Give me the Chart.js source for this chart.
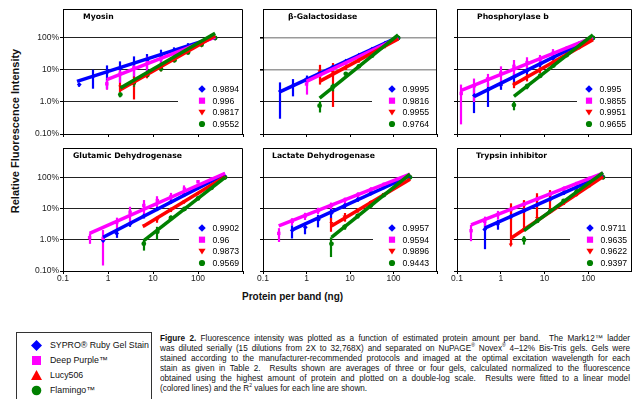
<!DOCTYPE html>
<html>
<head>
<meta charset="utf-8">
<script src="https://cdn.jsdelivr.net/npm/chart.js@4.4.1/dist/chart.umd.min.js"></script>
<style>
html,body{margin:0;padding:0;background:#fff;}
body{width:632px;height:399px;position:relative;overflow:hidden;font-family:"Liberation Sans",Arial,sans-serif;color:#111;}
canvas{position:absolute;}
.ytitle{position:absolute;left:15px;top:131px;transform:translate(-50%,-50%) rotate(-90deg);font-weight:bold;font-size:11px;white-space:nowrap;}
.xtitle{position:absolute;left:242px;top:291px;font-weight:bold;font-size:10px;line-height:12px;white-space:nowrap;}
.leg{position:absolute;left:16px;top:332px;width:134px;height:80px;border:1px solid #333;}
.leg .it{position:absolute;left:0;width:134px;height:12px;line-height:12px;font-size:8.8px;}
.leg svg{position:absolute;left:14px;top:1px;}
.leg span{position:absolute;left:33px;top:0;white-space:nowrap;}
.cap{position:absolute;left:160px;top:334px;width:470px;font-size:8.2px;}
.cap div{height:10px;line-height:10px;white-space:nowrap;}
.cap sup{font-size:5px;line-height:0;vertical-align:4px;}
</style>
</head>
<body>
<div class="ytitle">Relative Fluorescence Intensity</div>
<div class="xtitle">Protein per band (ng)</div>
<div class="leg">
  <div class="it" style="top:6px"><svg width="11" height="11"><polygon points="5.5,0 11,5.5 5.5,11 0,5.5" fill="#0000ff"/></svg><span>SYPRO® Ruby Gel Stain</span></div>
  <div class="it" style="top:21px"><svg width="11" height="11"><rect x="1" y="1" width="9" height="9" fill="#ff00ff"/></svg><span>Deep Purple™</span></div>
  <div class="it" style="top:36px"><svg width="11" height="11"><polygon points="5.5,0 11,10 0,10" fill="#ff0000"/></svg><span>Lucy506</span></div>
  <div class="it" style="top:51px"><svg width="11" height="11"><circle cx="5.5" cy="5.5" r="4.8" fill="#008000"/></svg><span>Flamingo™</span></div>
</div>
<div class="cap">
<div><span><b>Figure 2.</b> Fluorescence intensity was plotted as a function of estimated protein amount per band.&nbsp; The Mark12™ ladder</span></div>
<div><span>was diluted serially (15 dilutions from 2X to 32,768X) and separated on NuPAGE<sup>®</sup> Novex<sup>®</sup> 4–12% Bis-Tris gels. Gels were</span></div>
<div><span>stained according to the manufacturer-recommended protocols and imaged at the optimal excitation wavelength for each</span></div>
<div><span>stain as given in Table 2.&nbsp; Results shown are averages of three or four gels, calculated normalized to the fluorescence</span></div>
<div><span>obtained using the highest amount of protein and plotted on a double-log scale.&nbsp; Results were fitted to a linear model</span></div>
<div class="last"><span>(colored lines) and the R<sup>2</sup> values for each line are shown.</span></div>
</div>
<script>
(function(){
  var STAINS = ["SYPRO® Ruby Gel Stain", "Deep Purple™", "Lucy506", "Flamingo™"];
  var COLORS = ["#0000ff", "#ff00ff", "#ff0000", "#008000"];
  var SHAPES = ["rectRot", "rect", "triangle", "circle"];

  // values are % of the signal at the highest load; errors are +/- (or [minus, plus])
  // fits are [x0, y0, x1, y1] of each fitted line

  // Myosin
  var myoNg  = [240, 120, 60, 30, 15, 7.5, 3.75, 1.88, 0.94, 0.47, 0.23];
  var myoSy  = [100, 74, 55, 38.3, 28.9, 20.5, 16.1, 11.35, 8.25, 6.4, 3.5];
  var myoSyE = [3, 5, 14, 12.7, 14.1, 11, 10.5, 7.25, 5.65, 3.8, 0.5];
  var myoDp  = [100, 69, 48, 33, 22.6, 17, 11.6, 7.75, 3.7];
  var myoDpE = [2, 4, 5, 6, 7, 9, 5.4, 3.85, 1.3];
  var myoLu  = [100, 59, 35, 20.5, 12.8, 7.3, 3.7, 3];
  var myoLuE = [3, 4, 3, 3, 3.7, 1.8, 2.5, 1];
  var myoFl  = [100, 62, 35, 20, 11, 7, 4, 1.7];
  var myoFlE = [2, 3, 3, 2, 2, 1, 1, 0.3];
  var myoFit = [[0.205, 4.4, 240, 107], [0.94, 5, 240, 107], [1.88, 2.4, 240, 117], [1.88, 2.75, 240, 140]];
  var myoR2  = ["0.9894", "0.996", "0.9817", "0.9552"];

  // beta-Galactosidase
  var galNg  = [128, 64, 32, 16, 8, 4, 2, 1, 0.5, 0.25];
  var galSy  = [100, 69, 45, 29, 19, 12.4, 8, 5.2, 3.35, 2.2];
  var galSyE = [2, 3, 3, 3, 2, 2, 1.5, 1.5, 1.85, 1.9];
  var galDp  = [100, 63, 40.5, 26, 16.7, 10.7, 6.9, 3.65];
  var galDpE = [2, 4, 4, 3, 2.5, 2, 1.5, 1.95];
  var galLu  = [100, 55, 33, 20, 12, 8.6, 9];
  var galLuE = [2, 3, 3, 3, 2, 7.9, 5.5];
  var galFl  = [100, 60, 28, 13, 7.6, 2.95, 0.77];
  var galFlE = [2, 3, 2, 1.5, 1, 0.8, 0.3];
  var galFit = [[0.25, 2.1, 128, 107], [1, 4.4, 128, 100], [2, 4.4, 128, 93], [2, 1.33, 128, 126]];
  var galR2  = ["0.9995", "0.9816", "0.9955", "0.9764"];

  // Phosphorylase b
  var phoNg  = [128, 64, 32, 16, 8, 4, 2, 1, 0.5, 0.25, 0.125];
  var phoSy  = [100, 60, 37.6, 23.7, 15, 9.4, 6, 3.4, 2.3, 1.6];
  var phoSyE = [2, 3, 4, 4, 3, 2.5, 2, 1, 1.6, 1.15];
  var phoDp  = [100, 70, 47, 35, 22, 17, 13, 8, 5.25, 3.2, 1.85];
  var phoDpE = [2, 5, 8, 10, 7.5, 8, 7.5, 5, 2.3, 2.2, 1.65];
  var phoLu  = [100, 51, 29.5, 17.3, 10, 5.9, 3.5];
  var phoLuE = [2, 3, 3, 2.5, 2, 1.5, 0.8];
  var phoFl  = [100, 60, 29, 13.7, 6.6, 3.1, 0.8];
  var phoFlE = [2, 3, 2, 1.5, 1, 0.6, 0.25];
  var phoFit = [[0.25, 1.5, 128, 103], [0.125, 2.3, 128, 105], [2, 3.5, 128, 89], [2, 1.5, 128, 126]];
  var phoR2  = ["0.995", "0.9855", "0.9951", "0.9655"];

  // Glutamic Dehydrogenase
  var gluNg  = [400, 200, 100, 50, 25, 12.5, 6.25, 3.1, 1.56, 0.78, 0.39];
  var gluSy  = [100, 78, 46, 27.5, 16.4, 9.8, 5.8, 3.2, 1.6, 0.94];
  var gluSyE = [2, 3, 3, 3, 2, 1.5, 1, 0.6, 0.45, 0.1];
  var gluDp  = [100, 88, 72, 42, 24, 18, 12.5, 7.6, 3.6, 1.1, 1.17];
  var gluDpE = [3, 5, 8, 13, 7.7, 6.8, 6.2, 3.8, 1.5, 0.95, 0.43];
  var gluLu  = [100, 56, 30, 16.6, 9.2, 4.5, 2.8];
  var gluLuE = [3, 3, 3, 2, 1.5, 1, 0.3];
  var gluFl  = [100, 46, 21, 9.7, 5, 1.8, 0.75];
  var gluFlE = [2, 3, 2, 1.5, 1, 0.8, 0.3];
  var gluFit = [[0.78, 1.2, 400, 126], [0.39, 1.6, 400, 135], [6.25, 2.76, 400, 105], [6.25, 0.94, 400, 100]];
  var gluR2  = ["0.9902", "0.96", "0.9873", "0.9569"];

  // Lactate Dehydrogenase
  var ldhNg  = [240, 120, 60, 30, 15, 7.5, 3.75, 1.88, 0.94, 0.47, 0.23];
  var ldhSy  = [100, 76, 48, 30.8, 19.5, 12.4, 7.2, 4.4, 2.5, 2.0];
  var ldhSyE = [2, 3, 4, 4, 3, 2.5, 2.8, 1.9, 1, 0.9];
  var ldhDp  = [100, 85, 59, 40, 27, 18.4, 12.5, 8.6, 5.8, 3.9, 1.6];
  var ldhDpE = [2, 5, 8, 8, 6, 4, 3, 2, 1.5, 1, 0.75];
  var ldhLu  = [100, 51, 28.4, 15.9, 8.9, 5.5, 3.4];
  var ldhLuE = [2, 3, 3, 2, 1.5, 1.7, 1.6];
  var ldhFl  = [100, 59, 27, 12.5, 5.8, 2.6, 0.74];
  var ldhFlE = [2, 3, 2, 1.5, 1, 0.5, 0.46];
  var ldhFit = [[0.47, 2.07, 240, 112], [0.23, 2.77, 240, 126], [3.75, 2.77, 240, 87], [3.75, 1.2, 240, 126]];
  var ldhR2  = ["0.9957", "0.9594", "0.9896", "0.9443"];

  // Trypsin inhibitor
  var tryNg  = [218, 109, 54.5, 27.3, 13.6, 6.8, 3.4, 1.7, 0.85, 0.43, 0.21];
  var trySy  = [100, 75, 48, 31.5, 20, 13, 8.5, 5.5, 3.2, 2.15];
  var trySyE = [2, 3, 4, 4, 3, 2, 1.5, 1.2, 1.1, 1.65];
  var tryDp  = [100, 93, 63, 43, 29, 20, 13.6, 9.3, 6.4, 3.9, 1.95];
  var tryDpE = [2, 5, 7, 8, 6, 5, 3.5, 2.5, 2, 1.6, 1.05];
  var tryLu  = [100, 54, 28, 15, 8, 4.9, 2.1, 0.69];
  var tryLuE = [2, 3, 3, 2, [0, 31], [0, 26], [0, 16.5], [0, 14]];
  var tryFl  = [100, 73, 35.6, 17.5, 8.3, 4.0, 1.0];
  var tryFlE = [2, 3, 2, 1.5, 1, 0.5, 0.3];
  var tryFit = [[0.43, 2.35, 218, 115], [0.21, 3, 218, 135], [1.7, 1.12, 218, 105], [3.4, 1.97, 218, 141]];
  var tryR2  = ["0.9711", "0.9635", "0.9622", "0.9397"];

  var X_TICKS = [0.1, 1, 10, 100, 1000];
  var Y_TICKS = [0.1, 1, 10, 100];
  var Y_LABELS = { "0.1": "0.10%", "1": "1.0%", "10": "10%", "100": "100%" };

  // page geometry of the plot areas
  var COL_L = [63, 263, 457], COL_R = [243, 437, 632];
  var ROW_T = [9, 148], ROW_B = [134, 271];
  var Y_MAX = [805, 867];
  var AX_W = 48, AX_H = 18, PAD = 2;
  var LEG_DY = [80, 91.7, 103.3, 115];

  var panels = [
    { title: "Myosin", ng: myoNg, vals: [myoSy, myoDp, myoLu, myoFl], errs: [myoSyE, myoDpE, myoLuE, myoFlE], fits: myoFit, r2: myoR2, col: 0, row: 0, titleDx: 20, legDx: 139, boxDx: 115 },
    { title: "β-Galactosidase", ng: galNg, vals: [galSy, galDp, galLu, galFl], errs: [galSyE, galDpE, galLuE, galFlE], fits: galFit, r2: galR2, col: 1, row: 0, titleDx: 25, legDx: 129, boxDx: 109, gray: true },
    { title: "Phosphorylase b", ng: phoNg, vals: [phoSy, phoDp, phoLu, phoFl], errs: [phoSyE, phoDpE, phoLuE, phoFlE], fits: phoFit, r2: phoR2, col: 2, row: 0, titleDx: 20, legDx: 132, boxDx: 120 },
    { title: "Glutamic Dehydrogenase", ng: gluNg, vals: [gluSy, gluDp, gluLu, gluFl], errs: [gluSyE, gluDpE, gluLuE, gluFlE], fits: gluFit, r2: gluR2, col: 0, row: 1, titleDx: 10, legDx: 139, boxDx: 116 },
    { title: "Lactate Dehydrogenase", ng: ldhNg, vals: [ldhSy, ldhDp, ldhLu, ldhFl], errs: [ldhSyE, ldhDpE, ldhLuE, ldhFlE], fits: ldhFit, r2: ldhR2, col: 1, row: 1, titleDx: 9, legDx: 129, boxDx: 110 },
    { title: "Trypsin inhibitor", ng: tryNg, vals: [trySy, tryDp, tryLu, tryFl], errs: [trySyE, tryDpE, tryLuE, tryFlE], fits: tryFit, r2: tryR2, col: 2, row: 1, titleDx: 19, legDx: 133, boxDx: 113 }
  ];

  function drawMark(ctx, shape, x, y, r, color){
    ctx.fillStyle = color;
    ctx.beginPath();
    if(shape === "rectRot"){
      ctx.moveTo(x, y - r*1.2); ctx.lineTo(x + r*1.2, y); ctx.lineTo(x, y + r*1.2); ctx.lineTo(x - r*1.2, y);
    } else if(shape === "rect"){
      ctx.rect(x - r, y - r, r*2, r*2);
    } else if(shape === "triangle"){
      ctx.moveTo(x - r*1.15, y - r*0.85); ctx.lineTo(x + r*1.15, y - r*0.85); ctx.lineTo(x, y + r*1.05);
    } else {
      ctx.arc(x, y, r, 0, Math.PI*2);
    }
    ctx.closePath();
    ctx.fill();
  }

  function decor(p){
    return {
      id: "decor",
      beforeDatasetsDraw: function(chart){
        var a = chart.chartArea, ctx = chart.ctx, xs = chart.scales.x, ys = chart.scales.y;
        ctx.save();
        ctx.fillStyle = "#fff";
        ctx.fillRect(a.left + p.boxDx, a.top + 70, a.right - a.left - p.boxDx - 1, a.bottom - a.top - 71);
        ctx.beginPath();
        ctx.rect(a.left, a.top, a.right - a.left, a.bottom - a.top);
        ctx.clip();
        ctx.lineWidth = 2.2;
        p.vals.forEach(function(vals, s){
          ctx.strokeStyle = COLORS[s];
          vals.forEach(function(v, i){
            var e = p.errs[s][i];
            var lo = Array.isArray(e) ? v - e[0] : v - e;
            var hi = Array.isArray(e) ? v + e[1] : v + e;
            var px = Math.round(xs.getPixelForValue(p.ng[i]));
            var y0 = lo > 0 ? ys.getPixelForValue(lo) : a.bottom;
            var y1 = ys.getPixelForValue(hi);
            ctx.beginPath(); ctx.moveTo(px, y0); ctx.lineTo(px, y1); ctx.stroke();
          });
        });
        ctx.restore();
      },
      afterDatasetsDraw: function(chart){
        var a = chart.chartArea, ctx = chart.ctx;
        ctx.save();
        ctx.textBaseline = "middle";
        ctx.textAlign = "left";
        ctx.fillStyle = "#000";
        ctx.font = "bold 7.7px 'DejaVu Sans'";
        ctx.fillText(p.title, a.left + p.titleDx, a.top + 8.5);
        ctx.font = "8.7px 'Liberation Sans'";
        LEG_DY.forEach(function(dy, s){
          var x = a.left + p.legDx, y = a.top + dy;
          drawMark(ctx, SHAPES[s], x, y, 3.1, COLORS[s]);
          ctx.fillStyle = "#000";
          ctx.fillText(p.r2[s], x + 10.5, y + 0.5);
        });
        ctx.strokeStyle = "#000";
        ctx.lineWidth = 1;
        ctx.beginPath();
        ctx.moveTo(a.left, a.top + 0.5);
        ctx.lineTo(a.right - 0.5, a.top + 0.5);
        ctx.lineTo(a.right - 0.5, a.bottom);
        ctx.stroke();
        ctx.restore();
      }
    };
  }

  function buildPanel(p){
    var L = COL_L[p.col], R = COL_R[p.col], T = ROW_T[p.row], B = ROW_B[p.row];
    var cv = document.createElement("canvas");
    cv.width = R - L + AX_W + PAD;
    cv.height = B - T + PAD + AX_H;
    cv.style.left = (L - AX_W) + "px";
    cv.style.top = (T - PAD) + "px";
    document.body.appendChild(cv);

    var sets = [];
    var s;
    for(s = 3; s >= 0; s--){
      var f = p.fits[s];
      sets.push({
        label: STAINS[s] + " fit",
        data: [{ x: f[0], y: f[1] }, { x: f[2], y: f[3] }],
        showLine: true, borderColor: COLORS[s], borderWidth: 3.5, pointRadius: 0, fill: false
      });
    }
    for(s = 3; s >= 0; s--){
      sets.push({
        label: STAINS[s],
        data: p.vals[s].map(function(v, i){ return { x: p.ng[i], y: v }; }),
        pointStyle: SHAPES[s], pointRotation: s === 2 ? 180 : 0, pointRadius: 2.4,
        pointBackgroundColor: COLORS[s], pointBorderColor: COLORS[s], pointBorderWidth: 0, showLine: false
      });
    }

    var tickFont = { family: "Liberation Sans", size: 8.5 };
    new Chart(cv, {
      type: "scatter",
      data: { datasets: sets },
      plugins: [decor(p)],
      options: {
        responsive: false, animation: false, devicePixelRatio: 1, events: [],
        layout: { autoPadding: false, padding: { top: PAD, right: PAD, left: 0, bottom: 0 } },
        plugins: { legend: { display: false }, tooltip: { enabled: false } },
        scales: {
          x: {
            type: "logarithmic", min: 0.1, max: 1000,
            afterBuildTicks: function(sc){ sc.ticks = X_TICKS.map(function(v){ return { value: v }; }); },
            afterFit: function(sc){ sc.height = AX_H; sc.paddingLeft = 0; sc.paddingRight = 0; sc.paddingTop = 0; sc.paddingBottom = 0; },
            ticks: {
              autoSkip: false, maxRotation: 0, padding: 0, color: "#222", font: tickFont,
              callback: function(v){ return (p.row === 1 && v < 1000) ? String(v) : ""; }
            },
            grid: { drawOnChartArea: false, drawTicks: true, tickLength: 3, tickColor: "#000" },
            border: { display: true, color: "#000", width: 1 }
          },
          y: {
            type: "logarithmic", min: 0.1, max: Y_MAX[p.row],
            afterBuildTicks: function(sc){ sc.ticks = Y_TICKS.map(function(v){ return { value: v }; }); },
            afterFit: function(sc){ sc.width = AX_W; sc.paddingLeft = 0; sc.paddingRight = 0; sc.paddingTop = 0; sc.paddingBottom = 0; },
            ticks: {
              autoSkip: false, padding: 1, color: "#222", font: tickFont,
              callback: function(v){ return p.col === 0 ? (Y_LABELS[String(v)] || "") : ""; }
            },
            grid: {
              color: function(c){ return (p.gray && c.tick && c.tick.value >= 10) ? "#9a9a9a" : "#222"; },
              lineWidth: function(c){ return (p.gray && c.tick && c.tick.value >= 10) ? 1.6 : 1; },
              tickLength: 3, tickColor: "#000"
            },
            border: { display: true, color: "#000", width: 1 }
          }
        }
      }
    });
  }

  panels.forEach(buildPanel);

  // spread each caption line (but the last) over the full column width
  Array.prototype.forEach.call(document.querySelectorAll(".cap div"), function(d){
    if(d.className === "last") return;
    var span = d.querySelector("span");
    var w = span.getBoundingClientRect().width;
    var gaps = (span.textContent.match(/[ \u00a0]/g) || []).length;
    if(gaps) span.style.wordSpacing = ((470 - w) / gaps) + "px";
  });
})();
</script>
</body>
</html>
